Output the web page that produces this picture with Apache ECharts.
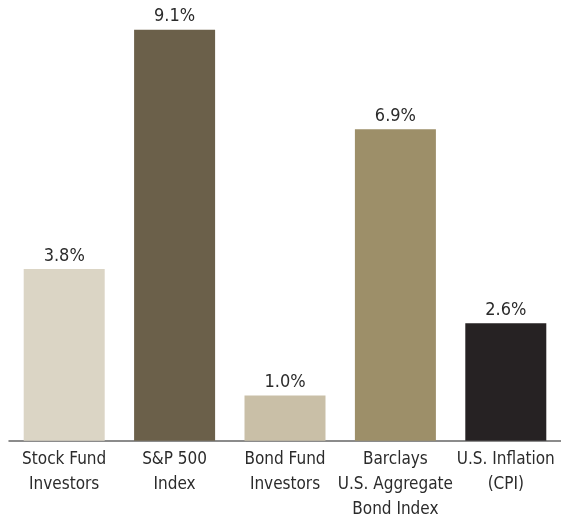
<!DOCTYPE html>
<html><head><meta charset="utf-8">
<script src="https://cdn.jsdelivr.net/npm/echarts@6/dist/echarts.min.js"></script>
<style>html,body{margin:0;padding:0;background:#fff}#c{width:561px;height:523px}</style>
</head><body><div id="c"></div>
<script>
const categories = ['Stock Fund\nInvestors', 'S&P 500\nIndex', 'Bond Fund\nInvestors', 'Barclays\nU.S. Aggregate\nBond Index', 'U.S. Inflation\n(CPI)'];
const values = [3.8, 9.1, 1.0, 6.9, 2.6];
const colors = ['#dbd5c5', '#6b604a', '#c9bfa7', '#9d8f69', '#262223'];
const FONT = '"Liberation Sans Narrow", "DejaVu Sans Condensed", sans-serif';
const chart = echarts.init(document.getElementById('c'));
chart.setOption({
  animation: false,
  grid: { left: 9, right: 0, top: 0, bottom: 82.3, containLabel: false },
  xAxis: {
    type: 'category', data: categories,
    axisLine: { lineStyle: { color: '#666', width: 1.5 } },
    axisTick: { show: false },
    axisLabel: { color: '#2b2b2b', fontFamily: FONT, fontSize: 17, lineHeight: 25, margin: 6, interval: 0 }
  },
  yAxis: { type: 'value', min: 0, max: 9.76, show: false, splitLine: { show: false } },
  series: [{
    type: 'bar', barWidth: 81,
    data: values.map((v, i) => ({ value: v, itemStyle: { color: colors[i] } })),
    label: { show: true, position: 'top', distance: 4, color: '#2b2b2b', fontFamily: FONT, fontSize: 18,
      formatter: p => p.value.toFixed(1) + '%' }
  }]
});
</script></body></html>
